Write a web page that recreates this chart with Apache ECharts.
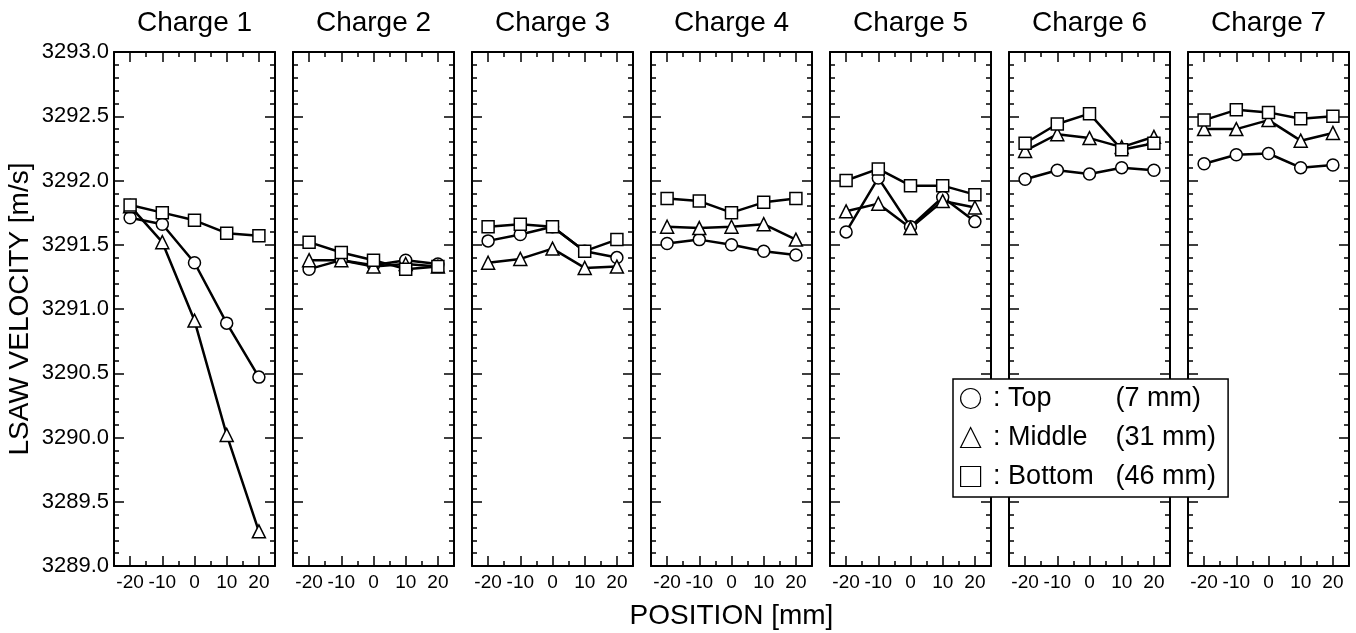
<!DOCTYPE html>
<html>
<head>
<meta charset="utf-8">
<script src="https://cdn.jsdelivr.net/npm/echarts@6/dist/echarts.min.js"></script>
<style>
  html, body { margin: 0; padding: 0; background: #fff; }
  #chart { width: 1356px; height: 633px; }
</style>
</head>
<body>
<div id="chart"></div>
<script>
// positions along the sample [mm]
const positions = [-20, -10, 0, 10, 20];
const charges = ['Charge 1', 'Charge 2', 'Charge 3', 'Charge 4', 'Charge 5', 'Charge 6', 'Charge 7'];

// LSAW velocity [m/s], one row per charge
const topVel = [
    [3291.71, 3291.66, 3291.36, 3290.89, 3290.47],
    [3291.31, 3291.38, 3291.34, 3291.38, 3291.35],
    [3291.53, 3291.58, 3291.64, 3291.45, 3291.40],
    [3291.51, 3291.54, 3291.50, 3291.45, 3291.42],
    [3291.60, 3292.02, 3291.64, 3291.87, 3291.68],
    [3292.01, 3292.08, 3292.05, 3292.10, 3292.08],
    [3292.13, 3292.20, 3292.21, 3292.10, 3292.12]
];
const middleVel = [
    [3291.80, 3291.52, 3290.91, 3290.02, 3289.27],
    [3291.38, 3291.38, 3291.33, 3291.35, 3291.33],
    [3291.36, 3291.39, 3291.47, 3291.32, 3291.33],
    [3291.64, 3291.63, 3291.64, 3291.66, 3291.54],
    [3291.76, 3291.82, 3291.63, 3291.84, 3291.79],
    [3292.23, 3292.36, 3292.33, 3292.26, 3292.34],
    [3292.40, 3292.40, 3292.47, 3292.31, 3292.37]
];
const bottomVel = [
    [3291.81, 3291.75, 3291.69, 3291.59, 3291.57],
    [3291.52, 3291.44, 3291.38, 3291.31, 3291.33],
    [3291.64, 3291.66, 3291.64, 3291.45, 3291.54],
    [3291.86, 3291.84, 3291.75, 3291.83, 3291.86],
    [3292.00, 3292.09, 3291.96, 3291.96, 3291.89],
    [3292.29, 3292.44, 3292.52, 3292.24, 3292.29],
    [3292.47, 3292.55, 3292.53, 3292.48, 3292.50]
];

const xMajor = [-20, -10, 0, 10, 20];
const xMinor = [-15, -5, 5, 15];

const FONT = 'Liberation Sans, Arial, Helvetica, sans-serif';
const black = '#000';

const grids = [], xAxes = [], yAxes = [], series = [];

const layers = [
    { name: 'Top', symbol: 'circle', size: 12, rows: topVel },
    { name: 'Middle', symbol: 'triangle', size: 13, rows: middleVel },
    { name: 'Bottom', symbol: 'rect', size: 12, rows: bottomVel }
];

charges.forEach((title, i) => {
    grids.push({ left: 114 + i * 179, top: 52, width: 161, height: 514, outerBoundsMode: 'none', containLabel: false });

    const tick = (len, vals) => ({
        show: true, inside: true, length: len, customValues: vals,
        lineStyle: { color: black, width: 1.5 }
    });
    const line = { show: true, onZero: false, lineStyle: { color: black, width: 2 } };

    // bottom: major ticks + labels
    xAxes.push({
        gridIndex: i, type: 'value', min: -25, max: 25, position: 'bottom',
        axisLine: line, axisTick: tick(10, xMajor),
        axisLabel: { customValues: xMajor, fontSize: 19, color: black, margin: 7, fontFamily: FONT },
        splitLine: { show: false },
        name: i === 3 ? 'POSITION [mm]' : '',
        nameLocation: 'middle', nameGap: 36,
        nameTextStyle: { fontSize: 28, color: black, fontFamily: FONT }
    });
    // bottom: minor ticks
    xAxes.push({
        gridIndex: i, type: 'value', min: -25, max: 25, position: 'bottom',
        axisLine: { show: false }, axisTick: tick(5, xMinor),
        axisLabel: { show: false }, splitLine: { show: false }
    });
    // top: major ticks + panel title
    xAxes.push({
        gridIndex: i, type: 'value', min: -25, max: 25, position: 'top',
        axisLine: line, axisTick: tick(10, xMajor),
        axisLabel: { show: false }, splitLine: { show: false },
        name: title, nameLocation: 'middle', nameGap: 15,
        nameTextStyle: { fontSize: 28, color: black, fontFamily: FONT }
    });
    // top: minor ticks
    xAxes.push({
        gridIndex: i, type: 'value', min: -25, max: 25, position: 'top',
        axisLine: { show: false }, axisTick: tick(5, xMinor),
        axisLabel: { show: false }, splitLine: { show: false }
    });

    ['left', 'right'].forEach(pos => {
        const withLabels = i === 0 && pos === 'left';
        yAxes.push({
            gridIndex: i, type: 'value', min: 3289, max: 3293, interval: 0.5, position: pos,
            axisLine: line,
            axisTick: { show: true, inside: true, length: 10, lineStyle: { color: black, width: 1.5 } },
            minorTick: { show: true, splitNumber: 5, length: 5, lineStyle: { color: black, width: 1.5 } },
            axisLabel: {
                show: withLabels, fontSize: 22, color: black, margin: 5, fontFamily: FONT,
                formatter: v => v.toFixed(1)
            },
            splitLine: { show: false }, minorSplitLine: { show: false },
            name: withLabels ? 'LSAW VELOCITY [m/s]' : '',
            nameLocation: 'middle', nameGap: 80,
            nameTextStyle: { fontSize: 28, color: black, fontFamily: FONT }
        });
    });

    layers.forEach(l => {
        series.push({
            name: l.name, type: 'line',
            xAxisIndex: i * 4, yAxisIndex: i * 2,
            data: positions.map((p, k) => [p, l.rows[i][k]]),
            symbol: l.symbol, symbolSize: l.size, showAllSymbol: true,
            lineStyle: { color: black, width: 2.5 },
            itemStyle: { color: '#fff', borderColor: black, borderWidth: 1.5 },
            emphasis: { disabled: true }
        });
    });
});

const legendText = { Top: '(7 mm)', Middle: '(31 mm)', Bottom: '(46 mm)' };

const chart = echarts.init(document.getElementById('chart'));
chart.setOption({
    animation: false,
    backgroundColor: '#fff',
    textStyle: { fontFamily: FONT },
    grid: grids,
    xAxis: xAxes,
    yAxis: yAxes,
    legend: {
        orient: 'vertical', left: 953, top: 379,
        padding: [6, 12, 7, 7], itemGap: 12, itemWidth: 20, itemHeight: 20,
        backgroundColor: '#fff', borderColor: black, borderWidth: 1.5,
        selectedMode: false, z: 10,
        data: [
            { name: 'Top', icon: 'circle' },
            { name: 'Middle', icon: 'triangle' },
            { name: 'Bottom', icon: 'rect' }
        ],
        itemStyle: { color: '#fff', borderColor: black, borderWidth: 1.2 },
        lineStyle: { width: 0 },
        formatter: n => '{a| : ' + n + '}{b|' + legendText[n] + '}',
        textStyle: {
            color: black, fontSize: 27, fontFamily: FONT,
            rich: {
                a: { width: 130, fontSize: 27, color: black, lineHeight: 25 },
                b: { fontSize: 27, color: black, lineHeight: 25 }
            }
        }
    },
    series: series
});
</script>
</body>
</html>
